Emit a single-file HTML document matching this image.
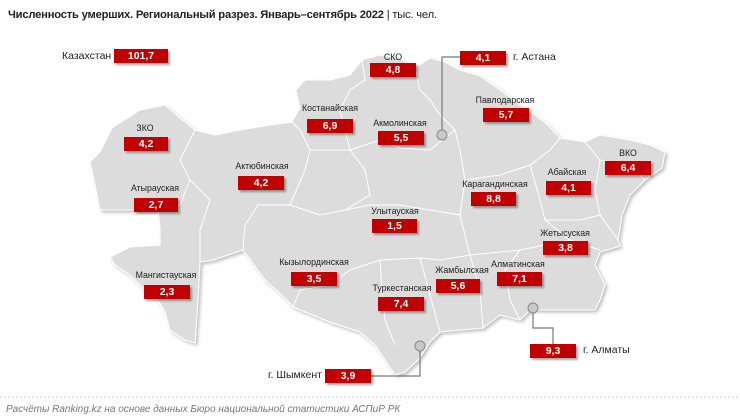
<!DOCTYPE html>
<html><head><meta charset="utf-8"><style>
body{margin:0;width:740px;height:420px;background:#fff;position:relative;overflow:hidden;font-family:"Liberation Sans",sans-serif;}
.t{position:absolute;left:8px;top:9px;font-size:11.2px;font-weight:bold;color:#222;white-space:nowrap;letter-spacing:-0.2px}
.t span{font-weight:normal}
.b{position:absolute;width:46px;height:14px;background:#c00000;color:#fff;font-weight:bold;font-size:10.5px;line-height:14px;text-align:center;box-shadow:2px 2px 2px rgba(0,0,0,.35)}
.l{position:absolute;font-size:8.8px;color:#222;white-space:nowrap;transform:translateX(-50%)}
.c{position:absolute;font-size:10.5px;color:#222;white-space:nowrap}
.f{position:absolute;left:6px;top:404px;font-size:10px;font-style:italic;color:#777}
</style></head><body>
<div class="t">Численность умерших. Региональный разрез. Январь–сентябрь 2022 <span>| тыс. чел.</span></div>
<svg width="740" height="420" style="position:absolute;left:0;top:0">
<defs><filter id="s" x="-5%" y="-5%" width="115%" height="115%"><feDropShadow dx="2" dy="2" stdDeviation="1.5" flood-color="#000" flood-opacity="0.25"/></filter></defs>
<polygon filter="url(#s)" fill="#dcdcdc" stroke="#fff" stroke-width="1" points="112,128 140,110 165,105 180,118 195,130 215,135 240,130 270,125 292,122 300,108 296,90 305,80 330,80 350,75 362,60 380,55 400,58 415,68 430,58 445,62 460,70 480,76 500,90 520,105 535,115 548,125 560,138 585,142 600,135 630,140 650,145 665,152 662,168 645,180 630,195 622,215 618,240 620,246 600,252 595,265 605,285 600,300 595,310 560,310 530,310 520,320 500,315 483,328 460,330 440,332 430,342 418,360 405,372 395,375 385,360 375,345 360,332 330,322 293,307 285,298 265,280 243,250 213,260 200,262 198,300 195,343 185,340 170,330 165,312 158,300 145,290 130,275 115,265 110,257 130,247 160,245 160,228 158,210 130,210 100,210 95,185 90,162 100,152"/>
<g fill="none" stroke="#fff" stroke-width="1">
<path d="M200,262 L200,230 L210,200 L190,180 L180,160 L190,140 L195,130"/>
<path d="M160,210 L180,205 L190,180"/>
<path d="M243,250 L245,225 L258,205 L290,205 L320,215 L345,210 L370,195 L365,170 L350,150 L310,150 L300,130 L292,122"/>
<path d="M290,205 L305,170 L310,150"/>
<path d="M293,307 L300,290 L330,285 L350,270 L380,260 L420,258 L440,260 L470,255 L520,250 L545,245 L570,240 L600,250"/>
<path d="M380,260 L382,290 L385,320 L395,345"/>
<path d="M420,258 L430,295 L440,332"/>
<path d="M470,255 L480,290 L483,328"/>
<path d="M520,250 L505,270 L510,300 L520,320"/>
<path d="M345,210 L370,205 L400,205 L430,210 L460,215 L470,255"/>
<path d="M460,215 L465,180 L460,150 L455,130 L440,115 L430,100 L420,90 L415,68"/>
<path d="M350,150 L380,140 L400,148 L430,150 L455,130"/>
<path d="M362,60 L365,80 L350,90 L340,110 L350,150"/>
<path d="M465,180 L500,175 L530,165 L550,150 L560,138"/>
<path d="M530,165 L540,200 L545,220 L570,240"/>
<path d="M545,220 L580,220 L600,215 L618,240"/>
<path d="M585,142 L600,160 L595,190 L600,215"/>
<path d="M600,160 L630,165 L645,180"/>
</g>
<g stroke="#777" fill="none" stroke-width="1.2">
<path d="M460,57 L442,57 L442,132"/>
<path d="M533,312 L533,328 L553,328 L553,344"/>
<path d="M420,350 L420,376 L371,376"/>
</g>
<g fill="#c8c8c8" stroke="#888" stroke-width="1">
<circle cx="442" cy="135" r="5"/><circle cx="533" cy="308" r="5"/><circle cx="420" cy="346" r="5"/>
</g>
<line x1="0" y1="397" x2="740" y2="397" stroke="#ccc" stroke-dasharray="2,2"/>
</svg>
<div class="c" style="left:62px;top:50px">Казахстан</div><div class="b" style="left:114px;top:49px;width:54px">101,7</div>
<div class="l" style="left:393px;top:52px">СКО</div><div class="b" style="left:370px;top:63px">4,8</div>
<div class="b" style="left:460px;top:51px">4,1</div><div class="c" style="left:513px;top:51px">г. Астана</div>
<div class="l" style="left:330px;top:103px">Костанайская</div><div class="b" style="left:307px;top:119px">6,9</div>
<div class="l" style="left:505px;top:95px">Павлодарская</div><div class="b" style="left:483px;top:108px">5,7</div>
<div class="l" style="left:145px;top:123px">ЗКО</div><div class="b" style="left:124px;top:137px;width:44px">4,2</div>
<div class="l" style="left:400px;top:118px">Акмолинская</div><div class="b" style="left:378px;top:131px">5,5</div>
<div class="l" style="left:628px;top:148px">ВКО</div><div class="b" style="left:605px;top:161px">6,4</div>
<div class="l" style="left:262px;top:161px">Актюбинская</div><div class="b" style="left:238px;top:176px">4,2</div>
<div class="l" style="left:567px;top:167px">Абайская</div><div class="b" style="left:546px;top:181px;width:45px">4,1</div>
<div class="l" style="left:495px;top:179px">Карагандинская</div><div class="b" style="left:471px;top:192px;width:45px">8,8</div>
<div class="l" style="left:155px;top:183px">Атырауская</div><div class="b" style="left:134px;top:198px;width:44px">2,7</div>
<div class="l" style="left:395px;top:206px">Улытауская</div><div class="b" style="left:372px;top:219px;width:45px">1,5</div>
<div class="l" style="left:565px;top:228px">Жетысуская</div><div class="b" style="left:543px;top:241px;width:45px">3,8</div>
<div class="l" style="left:314px;top:257px">Кызылординская</div><div class="b" style="left:291px;top:272px">3,5</div>
<div class="l" style="left:518px;top:259px">Алматинская</div><div class="b" style="left:497px;top:272px;width:45px">7,1</div>
<div class="l" style="left:462px;top:265px">Жамбылская</div><div class="b" style="left:436px;top:279px;width:44px">5,6</div>
<div class="l" style="left:166px;top:270px">Мангистауская</div><div class="b" style="left:144px;top:285px">2,3</div>
<div class="l" style="left:402px;top:283px">Туркестанская</div><div class="b" style="left:378px;top:297px">7,4</div>
<div class="b" style="left:530px;top:344px">9,3</div><div class="c" style="left:583px;top:344px">г. Алматы</div>
<div class="c" style="left:268px;top:369px">г. Шымкент</div><div class="b" style="left:325px;top:369px">3,9</div>
<div class="f">Расчёты Ranking.kz на основе данных Бюро национальной статистики АСПиР РК</div>
</body></html>
